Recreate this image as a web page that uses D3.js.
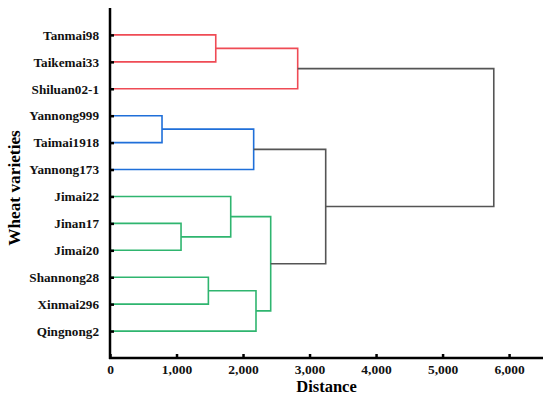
<!DOCTYPE html>
<html>
<head>
<meta charset="utf-8">
<script src="https://cdn.jsdelivr.net/npm/d3@7"></script>
<style>
  body { margin: 0; background: #fff; }
  text { font-family: "Liberation Serif", "Times New Roman", serif; font-weight: bold; }
</style>
</head>
<body>
<svg width="550" height="399"></svg>
<script>
// leaf order top to bottom
const varieties = ['Tanmai98', 'Taikemai33', 'Shiluan02-1', 'Yannong999', 'Taimai1918', 'Yannong173',
    'Jimai22', 'Jinan17', 'Jimai20', 'Shannong28', 'Xinmai296', 'Qingnong2'];

// linkage: [child a, child b, distance, cluster]; ids >= 12 refer to earlier merges
const merges = [
    [0, 1, 1590, 'A'],     // 12
    [12, 2, 2822, 'A'],    // 13
    [3, 4, 782, 'B'],      // 14
    [14, 5, 2160, 'B'],    // 15
    [7, 8, 1068, 'C'],     // 16
    [6, 16, 1815, 'C'],    // 17
    [9, 10, 1479, 'C'],    // 18
    [18, 11, 2195, 'C'],   // 19
    [17, 19, 2416, 'C'],   // 20
    [15, 20, 3243, 'root'],// 21
    [13, 21, 5770, 'root'] // 22
];

const xTicks = [0, 1000, 2000, 3000, 4000, 5000, 6000];

const svg = d3.select('svg');
const margin = { top: 8, right: 7, bottom: 41, left: 110 };
const width = +svg.attr('width');
const height = +svg.attr('height');

const x = d3.scaleLinear().domain([0, 6510]).range([margin.left, width - margin.right]);
const y = d3.scalePoint().domain(varieties).range([margin.top, height - margin.bottom]).padding(1);

const color = d3.scaleOrdinal()
    .domain(['A', 'B', 'C', 'root'])
    .range(['#ef4b55', '#1f6fd9', '#2fb56f', '#555555']);

// node positions
const nodes = varieties.map(v => ({ x: x(0), y: y(v) }));
merges.forEach(([a, b, d]) => {
    nodes.push({ x: x(d), y: (nodes[a].y + nodes[b].y) / 2 });
});

const g = svg.append('g');
merges.forEach(([a, b, d, c]) => {
    const xm = x(d);
    const p = d3.path();
    p.moveTo(nodes[a].x, nodes[a].y);
    p.lineTo(xm, nodes[a].y);
    p.lineTo(xm, nodes[b].y);
    p.lineTo(nodes[b].x, nodes[b].y);
    g.append('path')
        .attr('d', p.toString())
        .attr('fill', 'none')
        .attr('stroke', color(c))
        .attr('stroke-width', 1.6);
});

// axes
const xAxis = d3.axisBottom(x)
    .tickValues(xTicks)
    .tickSize(-4)
    .tickPadding(6)
    .tickFormat(d3.format(','));
const xg = svg.append('g')
    .attr('transform', `translate(0,${height - margin.bottom})`)
    .call(xAxis);
xg.select('.domain').attr('stroke-width', 2.5).attr('d', `M${margin.left - 1},0H${width - margin.right}`);
xg.selectAll('.tick line').attr('stroke-width', 2.5);
xg.selectAll('text').attr('font-size', 13.5).attr('font-family', null).attr('fill', '#111');

const yAxis = d3.axisLeft(y).tickSize(-4).tickPadding(11);
const yg = svg.append('g')
    .attr('transform', `translate(${margin.left},0)`)
    .call(yAxis);
yg.select('.domain').attr('stroke-width', 2.5).attr('d', `M0,${margin.top}V${height - margin.bottom + 1}`);
yg.selectAll('.tick line').attr('stroke-width', 2.5);
yg.selectAll('text').attr('font-size', 13.2).attr('font-family', null).attr('fill', '#111');

svg.append('text')
    .attr('x', (margin.left + width - margin.right) / 2)
    .attr('y', 392)
    .attr('text-anchor', 'middle')
    .attr('font-size', 16.5)
    .text('Distance');

svg.append('text')
    .attr('transform', `translate(20,${(margin.top + height - margin.bottom) / 2 + 5}) rotate(-90)`)
    .attr('text-anchor', 'middle')
    .attr('font-size', 17.3)
    .text('Wheat varieties');
</script>
</body>
</html>
